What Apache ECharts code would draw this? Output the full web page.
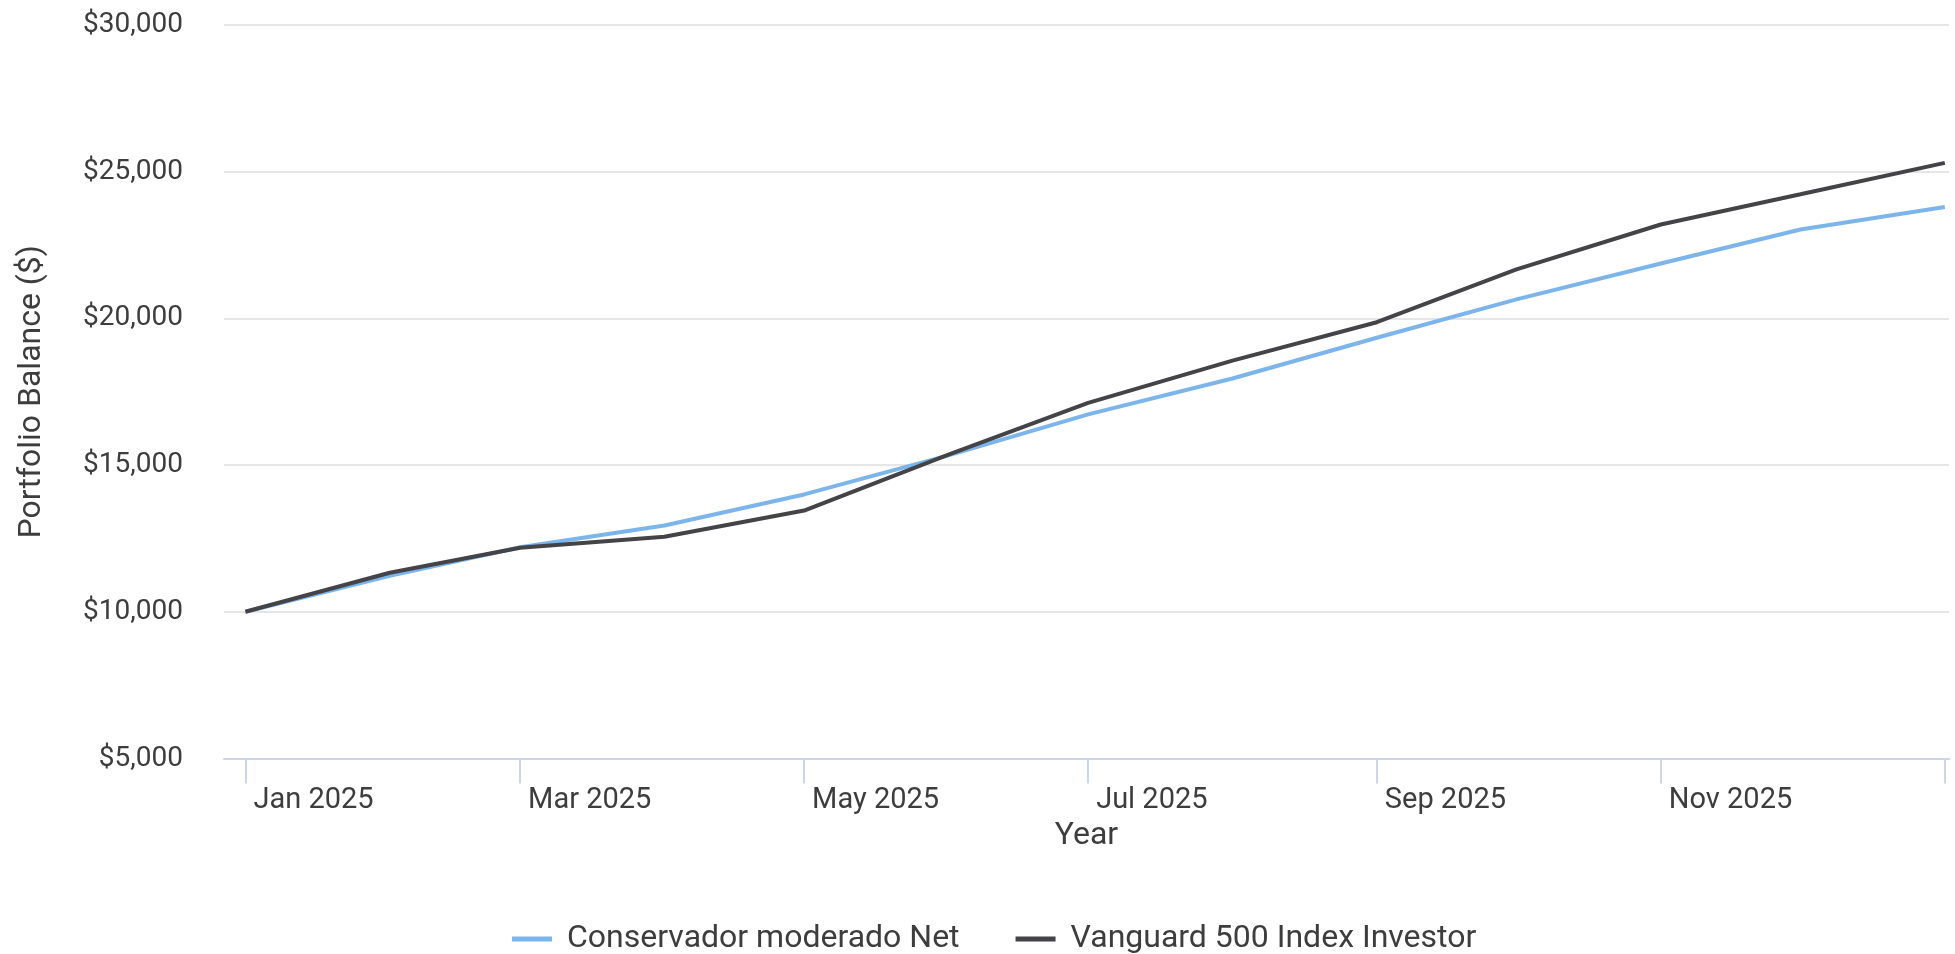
<!DOCTYPE html>
<html>
<head>
<meta charset="utf-8">
<script src="https://cdn.jsdelivr.net/npm/echarts@6/dist/echarts.min.js"></script>
<style>
  html, body { margin: 0; padding: 0; background: #fff; }
  #chart { width: 1955px; height: 954px; }
</style>
</head>
<body>
<div id="chart"></div>
<script>
  // one data point on the first of each month
  var dates = ['2025-01-01', '2025-02-01', '2025-03-01', '2025-04-01', '2025-05-01', '2025-06-01',
    '2025-07-01', '2025-08-01', '2025-09-01', '2025-10-01', '2025-11-01', '2025-12-01', '2026-01-01']
  var monthNames = ['Jan', 'Feb', 'Mar', 'Apr', 'May', 'Jun', 'Jul', 'Aug', 'Sep', 'Oct', 'Nov', 'Dec']
  // ticks every two months, last one (Jan 2026) has no label
  var tickDates = ['2025-01-01', '2025-03-01', '2025-05-01', '2025-07-01', '2025-09-01', '2025-11-01', '2026-01-01']
  var labelDates = ['2025-01-01', '2025-03-01', '2025-05-01', '2025-07-01', '2025-09-01', '2025-11-01']
  var yTicks = [5000, 10000, 15000, 20000, 25000, 30000]

  var conservador = [10000, 11230, 12200, 12940, 14000, 15330, 16730, 17950, 19340, 20650, 21870, 23030, 23800]
  var vanguard = [10000, 11330, 12180, 12560, 13450, 15360, 17120, 18560, 19870, 21670, 23200, 24230, 25300]

  var textColor = '#3d3d3d'
  var font = 'Roboto'
  var DAY = 86400000

  // x axis runs in days counted from the first date
  function ts(s) {
    var p = s.split('-')
    return Date.UTC(+p[0], +p[1] - 1, +p[2])
  }
  var t0 = ts(dates[0])
  function day(s) {
    return Math.round((ts(s) - t0) / DAY)
  }
  function pairs(vals) {
    return vals.map(function (v, i) { return [day(dates[i]), v] })
  }
  function money(v) {
    return '$' + v.toLocaleString('en-US')
  }
  function monthLabel(v) {
    var d = new Date(t0 + v * DAY + DAY / 2)
    return monthNames[d.getUTCMonth()] + ' ' + d.getUTCFullYear()
  }

  var dom = echarts.init(document.getElementById('chart'))
  var option = {
    animation: false,
    textStyle: { fontFamily: font },
    grid: {
      left: 224,
      right: 6,
      top: 25,
      bottom: 195.5
    },
    legend: {
      top: 918,
      left: 507,
      icon: 'rect',
      itemWidth: 40,
      itemHeight: 5,
      itemGap: 56,
      textStyle: { fontSize: 32, color: textColor, fontFamily: font, padding: [0, 0, 0, 10] },
      data: ['Conservador moderado Net', 'Vanguard 500 Index Investor']
    },
    xAxis: {
      type: 'value',
      min: -4.6,
      max: day(dates[dates.length - 1]) + 0.9,
      name: 'Year',
      nameLocation: 'middle',
      nameGap: 61,
      nameTextStyle: { fontSize: 32, color: textColor, fontFamily: font },
      axisLine: { show: true, lineStyle: { color: '#ccd6eb', width: 2 } },
      axisTick: {
        show: true,
        length: 25,
        customValues: tickDates.map(day),
        lineStyle: { color: '#ccd6eb', width: 2 }
      },
      axisLabel: {
        customValues: labelDates.map(day),
        align: 'left',
        padding: [0, 0, 0, 8],
        margin: 28,
        fontSize: 29,
        color: textColor,
        fontFamily: font,
        formatter: monthLabel
      },
      splitLine: { show: false }
    },
    yAxis: {
      type: 'value',
      min: yTicks[0],
      max: yTicks[yTicks.length - 1],
      interval: 5000,
      name: 'Portfolio Balance ($)',
      nameLocation: 'middle',
      nameRotate: 90,
      nameGap: 176,
      nameTextStyle: { fontSize: 32, color: textColor, fontFamily: font },
      axisLine: { show: false },
      axisTick: { show: false },
      axisLabel: {
        margin: 41,
        fontSize: 28,
        color: textColor,
        fontFamily: font,
        formatter: money
      },
      splitLine: { lineStyle: { color: '#e6e6e6', width: 2 } }
    },
    series: [
      {
        name: 'Conservador moderado Net',
        type: 'line',
        data: pairs(conservador),
        showSymbol: false,
        color: '#7cb5ec',
        lineStyle: { width: 4, color: '#7cb5ec' }
      },
      {
        name: 'Vanguard 500 Index Investor',
        type: 'line',
        data: pairs(vanguard),
        showSymbol: false,
        color: '#434348',
        lineStyle: { width: 4, color: '#434348' }
      }
    ]
  }
  dom.setOption(option)
</script>
</body>
</html>
